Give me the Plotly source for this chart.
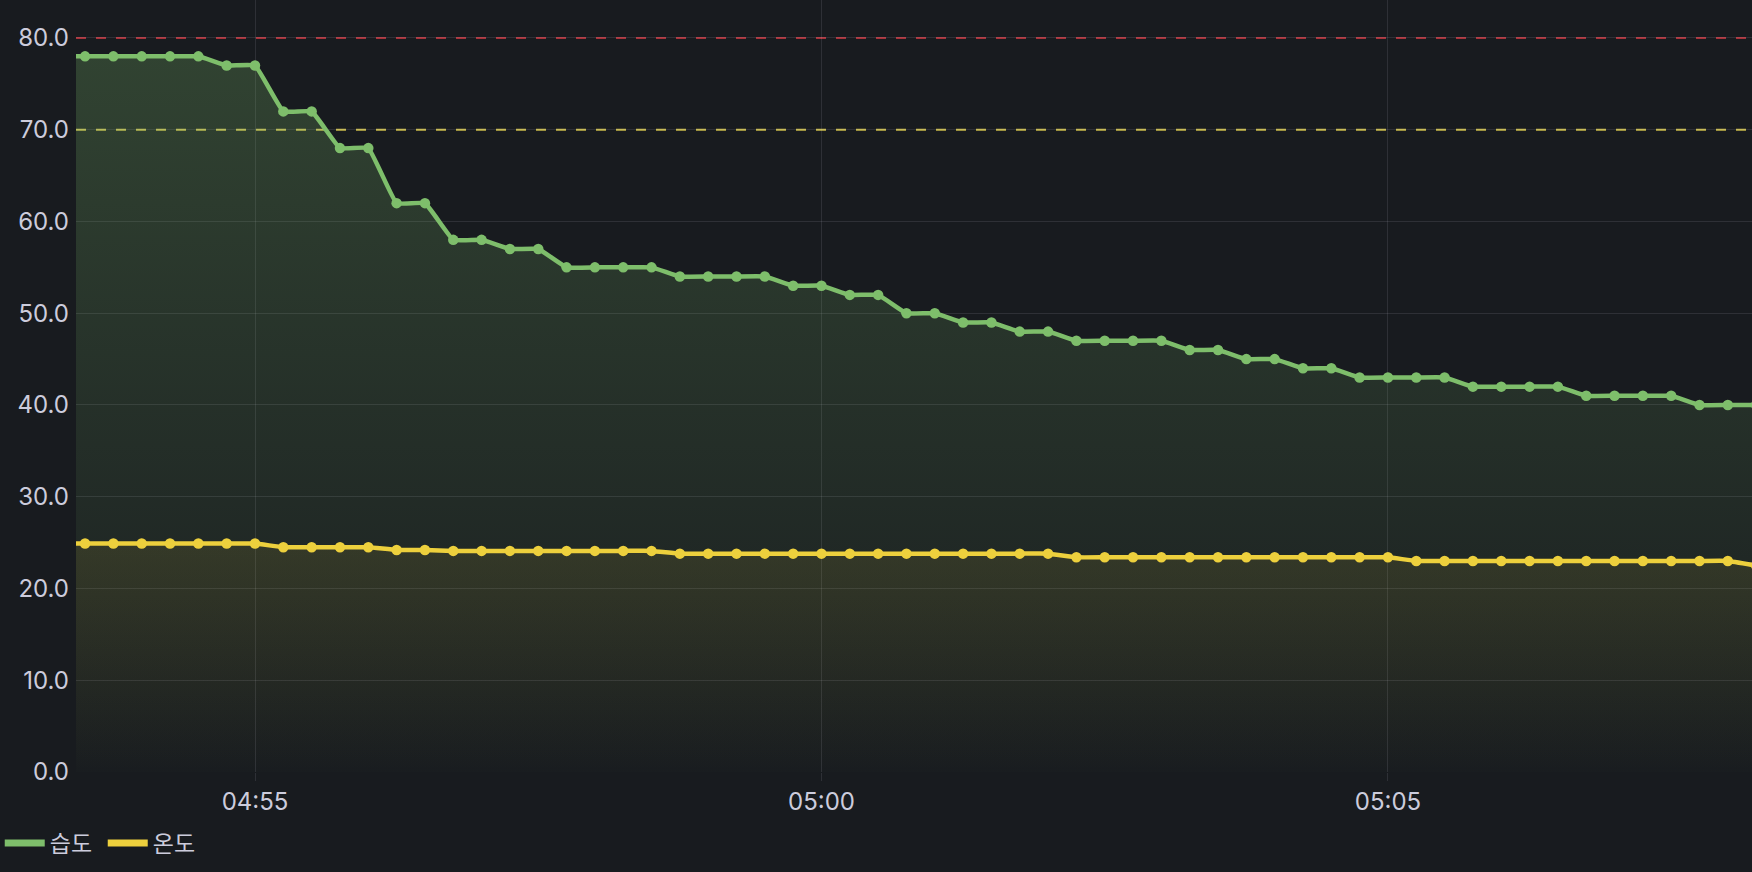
import plotly.graph_objects as go
from datetime import datetime, timedelta

# ---- data (15 s samples) ----
start_time = "2024-01-01 04:53:15"
humidity = [78,
            78, 78, 78, 78, 78, 77, 77, 72, 72, 68,
            68, 62, 62, 58, 58, 57, 57, 55, 55, 55,
            55, 54, 54, 54, 54, 53, 53, 52, 52, 50,
            50, 49, 49, 48, 48, 47, 47, 47, 47, 46,
            46, 45, 45, 44, 44, 43, 43, 43, 43, 42,
            42, 42, 42, 41, 41, 41, 41, 40, 40,
            40]
temperature = [24.9,
               24.9, 24.9, 24.9, 24.9, 24.9, 24.9, 24.9, 24.5, 24.5, 24.5,
               24.5, 24.2, 24.2, 24.1, 24.1, 24.1, 24.1, 24.1, 24.1, 24.1,
               24.1, 23.8, 23.8, 23.8, 23.8, 23.8, 23.8, 23.8, 23.8, 23.8,
               23.8, 23.8, 23.8, 23.8, 23.8, 23.4, 23.4, 23.4, 23.4, 23.4,
               23.4, 23.4, 23.4, 23.4, 23.4, 23.4, 23.4, 23.0, 23.0, 23.0,
               23.0, 23.0, 23.0, 23.0, 23.0, 23.0, 23.0, 23.0, 23.0,
               22.5]
series_names = ["습도", "온도"]
thresholds = [80, 70]

t0 = datetime.strptime(start_time, "%Y-%m-%d %H:%M:%S")
times = [t0 + timedelta(seconds=15 * i) for i in range(len(humidity))]

GREEN = "#7EBE6B"
YELLOW = "#EDD03D"
BG = "#181b1f"
GRID = "rgba(204,204,220,0.12)"
TEXT = "#ccccdc"
FONT = "Inter, 'Noto Sans CJK KR', sans-serif"

fig = go.Figure()

fig.add_trace(go.Scatter(
    x=times, y=humidity, mode="lines+markers", name=series_names[0],
    line=dict(color=GREEN, width=4.5, shape="spline", smoothing=0.3),
    marker=dict(color=GREEN, size=10.5),
    fill="tozeroy",
    fillgradient=dict(type="vertical", start=0, stop=80,
                      colorscale=[[0, "rgba(126,190,107,0.01)"], [1, "rgba(126,190,107,0.25)"]]),
    showlegend=False, hoverinfo="skip"))

fig.add_trace(go.Scatter(
    x=times, y=temperature, mode="lines+markers", name=series_names[1],
    line=dict(color=YELLOW, width=4.5, shape="spline", smoothing=0.3),
    marker=dict(color=YELLOW, size=10.5),
    fill="tozeroy",
    fillgradient=dict(type="vertical", start=0, stop=25,
                      colorscale=[[0, "rgba(237,208,61,0.0)"], [1, "rgba(237,208,61,0.10)"]]),
    showlegend=False, hoverinfo="skip"))

for name, col in zip(series_names, [GREEN, YELLOW]):
    fig.add_trace(go.Scatter(x=[None], y=[None], mode="lines", name=name,
                             line=dict(color=col, width=7)))

for val, col in zip(thresholds, ["#a8323a", "#c8b94a"]):
    fig.add_shape(type="line", xref="paper", x0=0, x1=1, yref="y", y0=val, y1=val,
                  line=dict(color=col, width=2, dash="10px,10px"), layer="between")

fig.update_layout(
    width=1752, height=872,
    margin=dict(l=76, r=0, t=0, b=100, autoexpand=False),
    paper_bgcolor=BG, plot_bgcolor=BG,
    font=dict(family=FONT, size=24, color=TEXT),
    legend=dict(orientation="h", x=-0.0455, xanchor="left", y=-0.092, yanchor="middle",
                font=dict(size=23, color=TEXT), bgcolor="rgba(0,0,0,0)",
                itemwidth=40, tracegroupgap=0,
                entrywidth=48, entrywidthmode="pixels"),
    xaxis=dict(type="date", range=["2024-01-01 04:53:25.2", "2024-01-01 05:08:12.8"],
               tick0="2024-01-01 04:55:00", dtick=300000, tickformat="%H:%M",
               showgrid=True, gridcolor=GRID, gridwidth=1,
               ticks="outside", ticklen=8, tickcolor=GRID, tickwidth=1,
               showline=False, zeroline=False, automargin=False,
               tickfont=dict(size=24, color=TEXT)),
    yaxis=dict(range=[0, 84.14], dtick=10, tick0=0, tickformat=".1f",
               showgrid=True, gridcolor=GRID, gridwidth=1,
               showline=False, zeroline=False, ticks="", automargin=False,
               ticklabelstandoff=6,
               tickfont=dict(size=24, color=TEXT)),
)

fig.write_html("out.html", config={"displayModeBar": False},
               post_script="document.body.style.margin='0';document.body.style.background='#181b1f';")
